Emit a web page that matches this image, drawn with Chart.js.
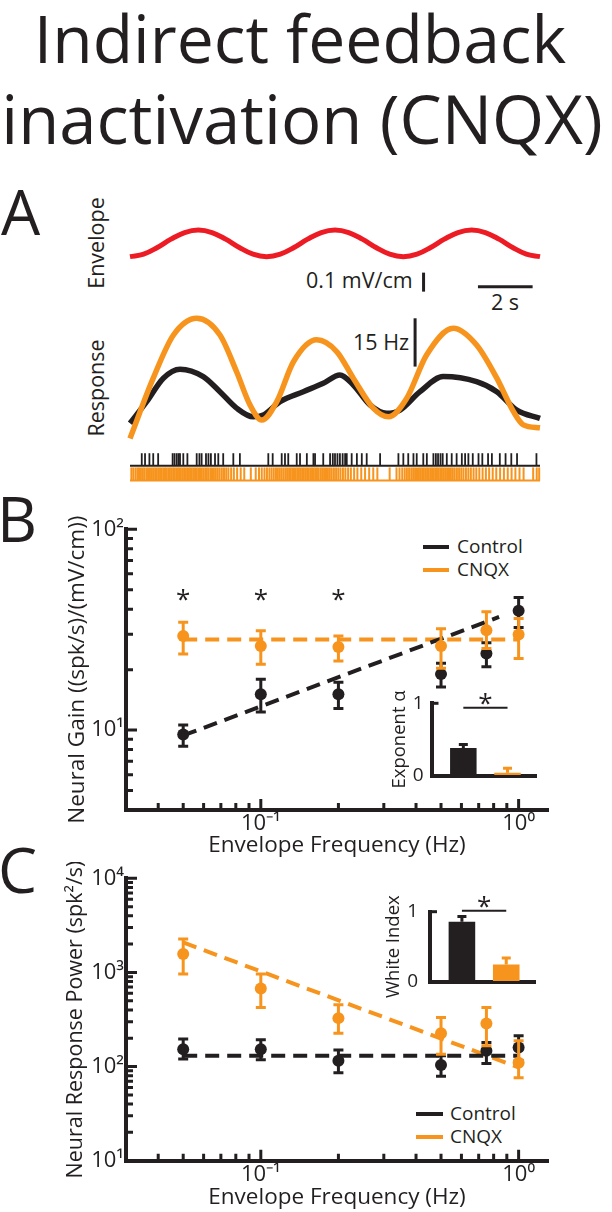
<!DOCTYPE html>
<html>
<head>
<meta charset="utf-8">
<title>Indirect feedback inactivation (CNQX)</title>
<script src="https://cdn.jsdelivr.net/npm/chart.js@4.4.1/dist/chart.umd.min.js"></script>
<style>
  html, body { margin: 0; padding: 0; background: #fff; }
  body { position: relative; width: 612px; height: 1212px; overflow: hidden; font-family: 'Open Sans', sans-serif; color: #231f20; }
  canvas { position: absolute; }
  .txt { position: absolute; line-height: 1; white-space: nowrap; }
  .rot { transform: translate(-50%, -50%) rotate(-90deg); }
  .key { position: absolute; height: 4px; }
</style>
</head>
<body>
<div class="txt" style="left:0;width:600px;text-align:center;top:4px;font-size:66px">Indirect feedback</div>
<div class="txt" style="left:0;width:604px;text-align:center;top:85px;font-size:67px">inactivation (CNQX)</div>
<div class="txt" style="left:1px;top:180px;font-size:62px">A</div>
<div class="txt" style="left:-3px;top:487px;font-size:62px">B</div>
<div class="txt" style="left:-2px;top:838px;font-size:62px">C</div>
<div class="txt rot" style="left:96px;top:243px;font-size:21.5px">Envelope</div>
<div class="txt rot" style="left:96px;top:388px;font-size:21.5px">Response</div>
<div class="txt" style="left:306px;top:269px;font-size:21.5px">0.1 mV/cm</div>
<div class="txt" style="left:505px;top:291px;font-size:21.5px;transform:translateX(-50%)">2 s</div>
<div class="txt" style="left:353px;top:331px;font-size:21.5px">15 Hz</div>

<div class="key" style="left:423px;top:545px;width:26px;background:#231f20"></div>
<div class="txt" style="left:457px;top:537px;font-size:19px">Control</div>
<div class="key" style="left:423px;top:568px;width:26px;background:#f7941d"></div>
<div class="txt" style="left:457px;top:560px;font-size:19px">CNQX</div>
<div class="key" style="left:416px;top:1112px;width:27px;background:#231f20"></div>
<div class="txt" style="left:450px;top:1104px;font-size:19px">Control</div>
<div class="key" style="left:416px;top:1135px;width:27px;background:#f7941d"></div>
<div class="txt" style="left:450px;top:1127px;font-size:19px">CNQX</div>

<canvas id="envChart" width="612" height="100" style="left:0;top:200px"></canvas>
<canvas id="respChart" width="612" height="148" style="left:0;top:300px"></canvas>
<canvas id="spikeChart" width="612" height="45" style="left:0;top:445px"></canvas>
<canvas id="gainChart" width="612" height="362" style="left:0;top:500px"></canvas>
<canvas id="gainInset" width="170" height="115" style="left:380px;top:680px"></canvas>
<canvas id="powerChart" width="612" height="350" style="left:0;top:862px"></canvas>
<canvas id="powerInset" width="170" height="120" style="left:380px;top:885px"></canvas>

<script>
const ink = '#231f20', orange = '#f7941d', red = '#ed1c24';

// A: stimulus envelope (mV/cm above trough) and firing rate (Hz) vs time (s)
const envTime = [0, 0.5, 1, 1.5, 2, 2.5, 3, 3.5, 4, 4.5, 5, 5.5, 6, 6.5, 7, 7.5, 8, 8.5, 9, 9.5, 10, 10.5, 11, 11.5, 12, 12.5, 13, 13.5, 14, 14.5, 15];
const envLevel = [0, 0.013, 0.048, 0.092, 0.127, 0.14, 0.127, 0.092, 0.048, 0.013, 0, 0.013, 0.048, 0.092, 0.127, 0.14, 0.127, 0.092, 0.048, 0.013, 0, 0.013, 0.048, 0.092, 0.127, 0.14, 0.127, 0.092, 0.048, 0.013, 0];

const rateTimeCnqx = [0, 0.85, 1.59, 2.44, 3.29, 3.9, 4.39, 4.82, 5.37, 5.98, 6.83, 7.57, 8.17, 8.9, 9.45, 10.12, 10.85, 11.83, 12.68, 13.42, 14.03, 14.39, 15];
const rateCnqx = [0.5, 19.2, 32.6, 37.8, 32.6, 21.2, 10.9, 6.2, 11.9, 24.3, 31.1, 27.4, 19.2, 9.9, 7.2, 12.9, 26.4, 34.7, 29.5, 19.2, 8.8, 4.7, 3.8];
const rateTimeControl = [0, 0.61, 1.22, 1.83, 2.68, 3.29, 3.9, 4.51, 4.88, 5.49, 6.34, 7.07, 7.68, 8.17, 8.78, 9.39, 9.88, 10.61, 11.46, 12.68, 13.42, 14.15, 15];
const rateControl = [5.2, 11.9, 19.2, 22.0, 19.7, 15.0, 9.9, 7.2, 7.8, 11.9, 15.0, 17.6, 20.2, 17.1, 10.9, 8.3, 9.3, 15.0, 19.7, 18.1, 15.0, 9.3, 6.7];

const spikesControl = [0.43, 0.55, 0.71, 0.85, 1.03, 1.56, 1.63, 1.71, 1.78, 1.83, 1.95, 2.1, 2.44, 2.54, 2.62, 2.78, 2.87, 2.96, 3.11, 3.23, 3.41, 3.78, 4.02, 5.06, 5.22, 5.55, 5.67, 5.79, 6.1, 6.22, 6.47, 6.71, 6.77, 7.07, 7.32, 7.42, 7.5, 7.59, 7.68, 7.78, 7.87, 7.93, 8.11, 8.3, 8.48, 8.66, 9.15, 9.82, 10.0, 10.18, 10.37, 10.49, 10.73, 10.86, 11.1, 11.19, 11.27, 11.36, 11.44, 11.59, 11.77, 11.95, 12.14, 12.26, 12.38, 12.54, 12.75, 12.89, 13.1, 13.24, 13.53, 13.74, 13.95, 14.16, 14.87];
const spikesCnqx = [0.05, 0.12, 0.2, 0.27, 0.33, 0.4, 0.47, 0.53, 0.6, 0.66, 0.73, 0.8, 0.86, 0.92, 0.98, 1.04, 1.1, 1.16, 1.22, 1.28, 1.34, 1.4, 1.46, 1.52, 1.58, 1.63, 1.69, 1.75, 1.8, 1.86, 1.92, 1.98, 2.03, 2.09, 2.15, 2.2, 2.26, 2.32, 2.38, 2.44, 2.5, 2.56, 2.62, 2.68, 2.75, 2.81, 2.87, 2.94, 3.0, 3.07, 3.14, 3.21, 3.28, 3.36, 3.44, 3.52, 3.6, 3.7, 3.8, 3.92, 4.05, 4.18, 4.42, 4.6, 4.72, 4.82, 4.92, 5.01, 5.1, 5.18, 5.26, 5.34, 5.41, 5.48, 5.55, 5.62, 5.69, 5.75, 5.82, 5.88, 5.94, 6.0, 6.06, 6.12, 6.18, 6.24, 6.3, 6.36, 6.42, 6.48, 6.54, 6.6, 6.66, 6.72, 6.78, 6.84, 6.9, 6.97, 7.03, 7.1, 7.17, 7.24, 7.31, 7.38, 7.46, 7.54, 7.62, 7.7, 7.79, 7.88, 7.98, 8.08, 8.2, 8.32, 8.46, 8.6, 8.75, 8.9, 9.05, 9.5, 9.75, 9.86, 9.96, 10.05, 10.13, 10.21, 10.29, 10.36, 10.43, 10.5, 10.57, 10.63, 10.69, 10.75, 10.81, 10.87, 10.93, 10.99, 11.05, 11.11, 11.17, 11.23, 11.29, 11.35, 11.41, 11.47, 11.53, 11.6, 11.67, 11.74, 11.81, 11.88, 11.96, 12.04, 12.12, 12.2, 12.29, 12.38, 12.47, 12.57, 12.67, 12.78, 12.9, 13.02, 13.14, 13.27, 13.4, 13.54, 13.68, 13.82, 13.96, 14.1, 14.25, 14.4, 14.75, 14.88, 14.97];

// B / C: envelope frequencies (Hz)
const freqs = [0.05, 0.1, 0.2, 0.5, 0.75, 1.0];

const gainControl = [9.5, 15.1, 15.1, 19.0, 24.1, 39.3];
const gainControlLo = [8.3, 12.3, 12.8, 16.4, 20.7, 32.4];
const gainControlHi = [10.6, 17.9, 17.3, 21.5, 27.2, 45.7];
const gainCnqx = [29.4, 26.2, 25.9, 26.2, 31.4, 29.9];
const gainCnqxLo = [23.9, 21.3, 22.1, 20.3, 25.5, 22.7];
const gainCnqxHi = [34.4, 31.2, 29.4, 32.0, 38.8, 36.0];
const gainFitControlX = [0.05, 0.84];
const gainFitControlY = [9.4, 36.6];
const gainFitCnqxX = [0.05, 1.0];
const gainFitCnqxY = [28.3, 28.3];
const gainStarFreqs = [0.05, 0.1, 0.2];

const powerControl = [153, 153, 115, 104, 147, 159];
const powerControlLo = [120, 118, 86, 79, 108, 115];
const powerControlHi = [196, 193, 150, 130, 180, 212];
const powerCnqx = [1570, 676, 327, 226, 287, 110];
const powerCnqxLo = [960, 425, 226, 135, 166, 76];
const powerCnqxHi = [2260, 960, 453, 332, 425, 188];
const powerFitControlX = [0.05, 1.0];
const powerFitControlY = [130, 130];
const powerFitCnqxX = [0.05, 1.0];
const powerFitCnqxY = [2080, 98];

// insets: Control, CNQX
const exponentAlpha = [0.383, 0.04];
const exponentAlphaHi = [0.43, 0.10];
const whiteIndex = [0.858, 0.245];
const whiteIndexHi = [0.93, 0.338];

// axis ticks
const freqTicks = [0.04, 0.05, 0.06, 0.07, 0.08, 0.09, 0.1, 0.2, 0.3, 0.4, 0.5, 0.6, 0.7, 0.8, 0.9, 1];
const freqDecades = [0.1, 1];
const freqDecadeText = ['10⁻¹', '10⁰'];
const gainTicks = [5, 6, 7, 8, 9, 10, 20, 30, 40, 50, 60, 70, 80, 90, 100];
const gainDecades = [10, 100];
const gainDecadeText = ['10¹', '10²'];
const powerTicks = [10, 20, 30, 40, 50, 60, 70, 80, 90, 100, 200, 300, 400, 500, 600, 700, 800, 900, 1000, 2000, 3000, 4000, 5000, 6000, 7000, 8000, 9000, 10000];
const powerDecades = [10, 100, 1000, 10000];
const powerDecadeText = ['10¹', '10²', '10³', '10⁴'];

Chart.defaults.font.family = "'Open Sans', sans-serif";
Chart.defaults.color = ink;
Chart.defaults.animation = false;
Chart.defaults.responsive = false;
Chart.defaults.events = [];
Chart.defaults.plugins.legend.display = false;
Chart.defaults.plugins.tooltip.enabled = false;

const xy = (xs, ys) => xs.map((x, i) => ({x: x, y: ys[i]}));

// scale bars drawn through the chart scales
const scaleBars = {
  id: 'scaleBars',
  afterDatasetsDraw(chart, args, opts) {
    const {ctx, scales: {x, y}} = chart;
    ctx.save();
    ctx.strokeStyle = ink;
    ctx.lineWidth = 3;
    (opts.bars || []).forEach(b => {
      ctx.beginPath();
      if (b.axis === 'x') {
        const py = y.getPixelForValue(b.at);
        ctx.moveTo(x.getPixelForValue(b.from), py);
        ctx.lineTo(x.getPixelForValue(b.to), py);
      } else {
        const px = x.getPixelForValue(b.at);
        ctx.moveTo(px, y.getPixelForValue(b.from));
        ctx.lineTo(px, y.getPixelForValue(b.to));
      }
      ctx.stroke();
    });
    ctx.restore();
  }
};

const rasterBase = {
  id: 'rasterBase',
  afterDatasetsDraw(chart, args, opts) {
    const {ctx, scales: {x, y}} = chart;
    ctx.save();
    opts.rows.forEach(r => {
      const py = y.getPixelForValue(r.row) + 6.5;
      ctx.strokeStyle = r.color;
      ctx.lineWidth = r.width;
      ctx.beginPath();
      ctx.moveTo(x.getPixelForValue(0), py);
      ctx.lineTo(x.getPixelForValue(15), py);
      ctx.stroke();
    });
    ctx.restore();
  }
};

// error bars, inward log ticks and significance stars
const logMarks = {
  id: 'logMarks',
  afterDatasetDraw(chart, args) {
    const ds = chart.data.datasets[args.index];
    if (!ds.errLo) return;
    const {ctx, scales: {y}} = chart;
    ctx.save();
    ctx.strokeStyle = ds.borderColor;
    ctx.lineWidth = 3;
    args.meta.data.forEach((pt, i) => {
      const hi = y.getPixelForValue(ds.errHi[i]);
      const lo = y.getPixelForValue(ds.errLo[i]);
      ctx.beginPath();
      ctx.moveTo(pt.x, hi); ctx.lineTo(pt.x, lo);
      ctx.moveTo(pt.x - 5, hi); ctx.lineTo(pt.x + 5, hi);
      ctx.moveTo(pt.x - 5, lo); ctx.lineTo(pt.x + 5, lo);
      ctx.stroke();
    });
    ctx.restore();
  },
  afterDraw(chart, args, opts) {
    const {ctx, chartArea: a, scales: {x, y}} = chart;
    const isDecade = v => Math.abs(Math.log10(v) - Math.round(Math.log10(v))) < 1e-9;
    ctx.save();
    ctx.strokeStyle = ink;
    ctx.lineWidth = 3;
    ctx.beginPath();
    x.ticks.forEach(t => {
      const px = x.getPixelForValue(t.value);
      ctx.moveTo(px, a.bottom);
      ctx.lineTo(px, a.bottom - (isDecade(t.value) ? 11 : 7));
    });
    y.ticks.forEach(t => {
      const py = y.getPixelForValue(t.value);
      ctx.moveTo(a.left, py);
      ctx.lineTo(a.left + (isDecade(t.value) ? 11 : 7), py);
    });
    ctx.stroke();
    if (opts.stars) {
      ctx.fillStyle = ink;
      ctx.font = "26px 'Open Sans'";
      ctx.textAlign = 'center';
      ctx.textBaseline = 'alphabetic';
      opts.stars.at.forEach(f => {
        ctx.fillText('*', x.getPixelForValue(f), y.getPixelForValue(opts.stars.level) + 15);
      });
    }
    ctx.restore();
  }
};

const pickLabel = (v, decades, text) => {
  const i = decades.indexOf(v);
  return i < 0 ? '' : text[i];
};

function freqChart(id, p) {
  return new Chart(document.getElementById(id), {
    type: 'scatter',
    data: {
      datasets: [
        {data: xy(freqs, p.cnqx), errLo: p.cnqxLo, errHi: p.cnqxHi, borderColor: orange,
         pointBackgroundColor: orange, pointBorderWidth: 0, pointRadius: 6},
        {data: xy(freqs, p.control), errLo: p.controlLo, errHi: p.controlHi, borderColor: ink,
         pointBackgroundColor: ink, pointBorderWidth: 0, pointRadius: 6},
        {data: p.controlFit, showLine: true, borderColor: ink, borderWidth: 4, borderDash: [14, 8], pointRadius: 0},
        {data: p.cnqxFit, showLine: true, borderColor: orange, borderWidth: 4, borderDash: [14, 8], pointRadius: 0}
      ]
    },
    options: {
      layout: {padding: {left: 0, right: 64, top: p.padTop, bottom: 0}},
      scales: {
        x: {
          type: 'logarithmic', min: 0.03, max: 1.3, bounds: 'data',
          afterBuildTicks: s => { s.ticks = freqTicks.map(v => ({value: v})); },
          afterFit: s => { s.height = p.xHeight; },
          ticks: {callback: v => pickLabel(v, freqDecades, freqDecadeText), autoSkip: false,
                  maxRotation: 0, minRotation: 0, font: {size: 22}, padding: 1, color: ink},
          grid: {drawOnChartArea: false, drawTicks: false},
          border: {color: ink, width: 4},
          title: {display: true, text: 'Envelope Frequency (Hz)', color: ink, font: {size: 22.5},
                  padding: {top: 0, bottom: p.xTitlePad}}
        },
        y: {
          type: 'logarithmic', min: p.yMin, max: p.yMax, bounds: 'data',
          afterBuildTicks: s => { s.ticks = p.yTicks.map(v => ({value: v})); },
          afterFit: s => { s.width = 126; },
          ticks: {callback: v => pickLabel(v, p.yDecades, p.yDecadeText), autoSkip: false,
                  font: {size: 22}, padding: 2, color: ink},
          grid: {drawOnChartArea: false, drawTicks: false},
          border: {color: ink, width: 4},
          title: {display: true, text: p.yTitle, color: ink, font: {size: p.yTitleSize},
                  padding: {top: p.yTitlePad, bottom: 0}}
        }
      },
      plugins: {logMarks: {stars: p.stars}}
    },
    plugins: [logMarks]
  });
}

const insetMarks = {
  id: 'insetMarks',
  afterDatasetsDraw(chart, args, o) {
    const {ctx, scales: {x, y}} = chart;
    const meta = chart.getDatasetMeta(0);
    ctx.save();
    ctx.lineWidth = 3;
    meta.data.forEach((bar, i) => {
      const top = y.getPixelForValue(o.upper[i]);
      ctx.strokeStyle = o.colors[i];
      ctx.beginPath();
      ctx.moveTo(bar.x, bar.y); ctx.lineTo(bar.x, top);
      ctx.moveTo(bar.x - 4.5, top); ctx.lineTo(bar.x + 4.5, top);
      ctx.stroke();
    });
    ctx.strokeStyle = ink;
    const y1 = y.getPixelForValue(1);
    ctx.beginPath(); ctx.moveTo(x.left, y1); ctx.lineTo(x.left + 7, y1); ctx.stroke();
    const ys = y.getPixelForValue(o.sigLevel);
    const x0 = x.getPixelForValue(0), x1 = x.getPixelForValue(1);
    ctx.lineWidth = 2;
    ctx.beginPath(); ctx.moveTo(x0, ys); ctx.lineTo(x1, ys); ctx.stroke();
    ctx.fillStyle = ink;
    ctx.font = "26px 'Open Sans'";
    ctx.textAlign = 'center';
    ctx.textBaseline = 'alphabetic';
    ctx.fillText('*', (x0 + x1) / 2, ys + 4);
    ctx.restore();
  }
};

function insetChart(id, p) {
  return new Chart(document.getElementById(id), {
    type: 'bar',
    data: {datasets: [{data: xy([0, 1], p.values), backgroundColor: [ink, orange],
                       barPercentage: 0.6, categoryPercentage: 1}]},
    options: {
      layout: {padding: {left: 0, right: p.padRight, top: p.padTop, bottom: 0}},
      scales: {
        x: {
          type: 'linear', min: -0.72, max: 1.66, offset: false,
          afterBuildTicks: s => { s.ticks = [{value: 0}, {value: 1}]; },
          afterFit: s => { s.height = p.xHeight; },
          ticks: {display: false},
          grid: {drawOnChartArea: false, drawTicks: false, offset: false},
          border: {color: ink, width: 4}
        },
        y: {
          min: 0, max: 1,
          afterBuildTicks: s => { s.ticks = [{value: 0}, {value: 1}]; },
          afterFit: s => { s.width = p.yWidth; },
          ticks: {font: {size: 19}, padding: p.tickPad, color: ink},
          grid: {drawOnChartArea: false, drawTicks: false},
          border: {color: ink, width: 4},
          title: {display: true, text: p.title, color: ink, font: {size: 18.5},
                  padding: {top: p.titlePad, bottom: 0}}
        }
      },
      plugins: {insetMarks: {upper: p.upper, colors: [ink, orange], sigLevel: p.sigLevel}}
    },
    plugins: [insetMarks]
  });
}

// Panel A
new Chart(document.getElementById('envChart'), {
  type: 'scatter',
  data: {datasets: [{data: xy(envTime, envLevel), showLine: true, borderColor: red, borderWidth: 5,
                     pointRadius: 0, tension: 0.4, clip: false}]},
  options: {
    layout: {padding: {left: 130, right: 72, top: 0, bottom: 0}},
    scales: {x: {display: false, min: 0, max: 15}, y: {display: false, min: -0.228, max: 0.298}},
    plugins: {scaleBars: {bars: [
      {axis: 'x', from: 12.73, to: 14.73, at: -0.158},
      {axis: 'y', from: -0.084, to: -0.184, at: 10.74}
    ]}}
  },
  plugins: [scaleBars]
});

new Chart(document.getElementById('respChart'), {
  type: 'scatter',
  data: {datasets: [
    {data: xy(rateTimeCnqx, rateCnqx), showLine: true, borderColor: orange, borderWidth: 5.5,
     pointRadius: 0, cubicInterpolationMode: 'monotone', clip: false},
    {data: xy(rateTimeControl, rateControl), showLine: true, borderColor: ink, borderWidth: 5.5,
     pointRadius: 0, cubicInterpolationMode: 'monotone', clip: false}
  ]},
  options: {
    layout: {padding: {left: 130, right: 72, top: 0, bottom: 0}},
    scales: {x: {display: false, min: 0, max: 15}, y: {display: false, min: -2.48, max: 43.48}},
    plugins: {scaleBars: {bars: [{axis: 'y', from: 22.8, to: 37.8, at: 10.43}]}}
  },
  plugins: [scaleBars]
});

new Chart(document.getElementById('spikeChart'), {
  type: 'scatter',
  data: {datasets: [
    {data: spikesControl.map(t => ({x: t, y: 1})), pointStyle: 'line', pointRotation: 90,
     pointRadius: 6, pointBorderWidth: 1.8, pointBorderColor: ink, clip: false},
    {data: spikesCnqx.map(t => ({x: t, y: 0})), pointStyle: 'line', pointRotation: 90,
     pointRadius: 6.7, pointBorderWidth: 2, pointBorderColor: orange, clip: false}
  ]},
  options: {
    layout: {padding: {left: 130, right: 72, top: 0, bottom: 0}},
    scales: {x: {display: false, min: 0, max: 15}, y: {display: false, min: -0.482, max: 1.37}},
    plugins: {rasterBase: {rows: [{row: 1, color: ink, width: 2}, {row: 0, color: orange, width: 2}]}}
  },
  plugins: [rasterBase]
});

// Panel B
freqChart('gainChart', {
  cnqx: gainCnqx, cnqxLo: gainCnqxLo, cnqxHi: gainCnqxHi,
  control: gainControl, controlLo: gainControlLo, controlHi: gainControlHi,
  controlFit: xy(gainFitControlX, gainFitControlY), cnqxFit: xy(gainFitCnqxX, gainFitCnqxY),
  yMin: 4, yMax: 100, yTicks: gainTicks, yDecades: gainDecades, yDecadeText: gainDecadeText,
  yTitle: 'Neural Gain ((spk/s)/(mV/cm))', yTitleSize: 22.5,
  padTop: 29.3, xHeight: 52, xTitlePad: 3, yTitlePad: 64,
  stars: {at: gainStarFreqs, level: 48}
});
insetChart('gainInset', {
  values: exponentAlpha, upper: exponentAlphaHi, title: 'Exponent α', sigLevel: 0.94,
  padTop: 23.3, padRight: 13.3, xHeight: 10, yWidth: 51.5, tickPad: 8, titlePad: 9
});

// Panel C
freqChart('powerChart', {
  cnqx: powerCnqx, cnqxLo: powerCnqxLo, cnqxHi: powerCnqxHi,
  control: powerControl, controlLo: powerControlLo, controlHi: powerControlHi,
  controlFit: xy(powerFitControlX, powerFitControlY), cnqxFit: xy(powerFitCnqxX, powerFitCnqxY),
  yMin: 10, yMax: 10000, yTicks: powerTicks, yDecades: powerDecades, yDecadeText: powerDecadeText,
  yTitle: 'Neural Response Power (spk²/s)', yTitleSize: 21.5,
  padTop: 16.3, xHeight: 51.3, xTitlePad: 1, yTitlePad: 63,
  stars: null
});
insetChart('powerInset', {
  values: whiteIndex, upper: whiteIndexHi, title: 'White Index', sigLevel: 1.012,
  padTop: 26.7, padRight: 14.5, xHeight: 11.7, yWidth: 50, tickPad: 12, titlePad: 2.3
});
</script>
</body>
</html>
